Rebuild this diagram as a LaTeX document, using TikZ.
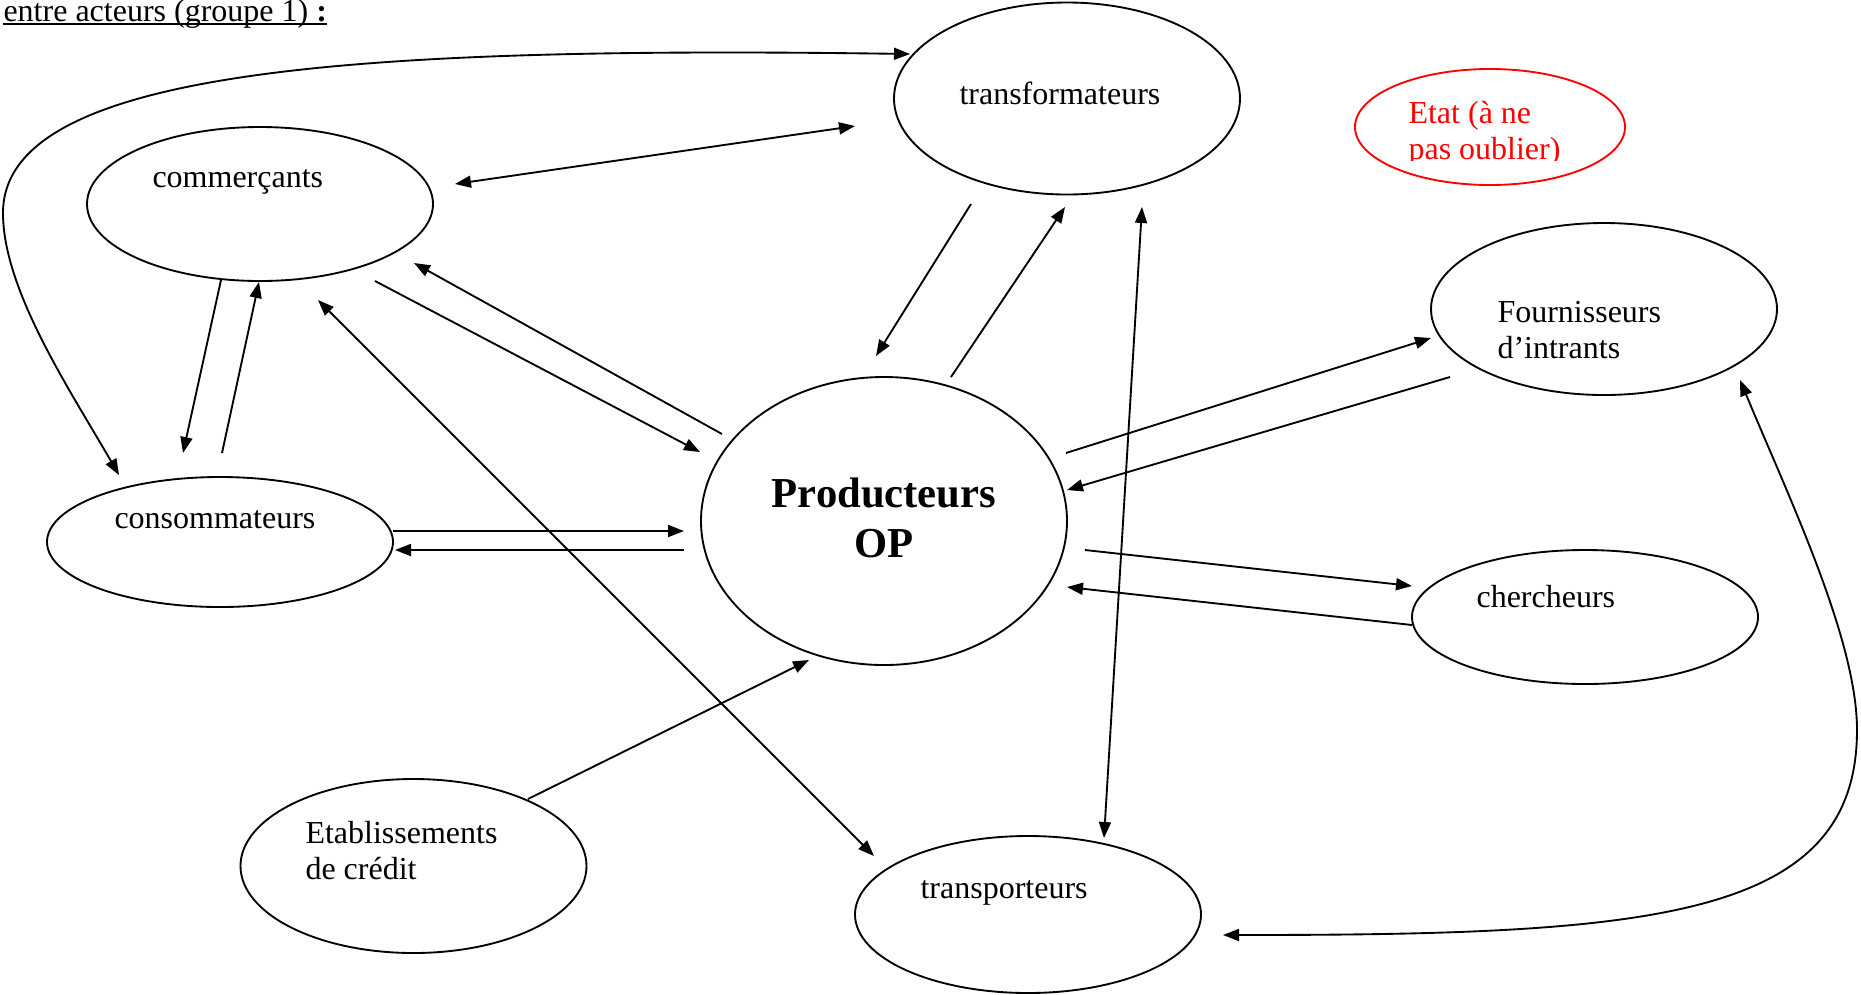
\documentclass[tikz,border=0pt]{standalone}
\usepackage{fontspec}
\setmainfont{Liberation Serif}
\usetikzlibrary{arrows.meta,calc,shapes.geometric}
\begin{document}
\begin{tikzpicture}[x=0.375pt,y=-0.375pt,
  ell/.style={ellipse,draw,line width=0.7pt,inner sep=0pt,minimum width=129.75pt},
  lbl/.style={inner sep=0pt,anchor=base west,font=\fontsize{12}{13.5}\selectfont,align=left},
  con/.style={line width=0.7pt,-{Triangle[length=6pt,width=4.5pt]}},
  bicon/.style={line width=0.7pt,{Triangle[length=6pt,width=4.5pt]}-{Triangle[length=6pt,width=4.5pt]}}]
\useasboundingbox (0,0) rectangle (1861,994);

% title
\node[lbl] (title) at (3,21) {entre acteurs (groupe 1) \textbf{:}};
\draw[line width=0.75pt] ($(title.base west)+(0,3.3)$) -- ($(title.base east)+(0,3.3)$);

% ellipses
\node[ell,minimum height=72pt] (T) at (1067,98.5) {};
\node[ell,draw=red,minimum width=101.25pt,minimum height=43.5pt] (E) at (1490,127) {};
\node[ell,minimum height=57.75pt] (C) at (260,204) {};
\node[ell,minimum height=64.5pt] (F) at (1604,309) {};
\node[ell,minimum width=137.25pt,minimum height=108pt] (P) at (884,521) {};
\node[ell,minimum height=48.75pt] (K) at (220,542) {};
\node[ell,minimum height=50.25pt] (R) at (1585,617) {};
\node[ell,minimum height=65.25pt] (B) at (413.5,866) {};
\node[ell,minimum height=58.875pt] (Q) at (1028,914.5) {};

% texts (multi-line nodes: base = last line)
\node[lbl] (Ttxt) at (959,104) {transformateurs};
\begin{scope}
\clip (1400,90) rectangle (1640,160);
\node[lbl,text=red] (Etxt) at (1408,159) {Etat (à ne\\pas oublier)};
\end{scope}
\node[lbl] (Ctxt) at (152,187) {commerçants};
\node[lbl] (Ftxt) at (1497,358) {Fournisseurs\\d’intrants};
\node[inner sep=0pt,anchor=base,align=center,font=\fontsize{16}{18.4}\selectfont\bfseries] (Ptxt) at (884,557) {Producteurs\\OP};
\node[lbl] (Ktxt) at (114,528) {consommateurs};
\node[lbl] (Rtxt) at (1476,607) {chercheurs};
\node[lbl] (Btxt) at (305,879) {Etablissements\\de crédit};
\node[lbl] (Qtxt) at (920,898) {transporteurs};

% connectors
\draw[bicon] ($(K)+(-101,-67)$) .. controls (70,390) and (3,290) .. (3,213)
   .. controls (3,70) and (350,46) .. ($(T)+(-157,-44.5)$);
\draw[bicon] ($(C)+(195,-20)$) -- ($(T)+(-212,27.5)$);
\draw[con] ($(T)+(-96,105.5)$) -- ($(P)+(-8,-165)$);
\draw[con] ($(P)+(67,-144)$) -- ($(T)+(-2,108.5)$);
\draw[bicon] ($(T)+(75,108.5)$) -- ($(Q)+(76,-76.5)$);
\draw[con] ($(C)+(-39,76)$) -- ($(K)+(-37,-89)$);
\draw[con] ($(K)+(2,-89)$) -- ($(C)+(-1,78)$);
\draw[con] ($(C)+(115,77)$) -- ($(P)+(-184,-69)$);
\draw[con] ($(P)+(-162,-87)$) -- ($(C)+(154,59)$);
\draw[bicon] ($(C)+(58,96)$) -- ($(Q)+(-154,-58.5)$);
\draw[con] ($(K)+(173,-11)$) -- ($(P)+(-200,10)$);
\draw[con] ($(P)+(-200,29)$) -- ($(K)+(175,8)$);
\draw[con] ($(P)+(182,-68)$) -- ($(F)+(-173,29)$);
\draw[con] ($(F)+(-154,68)$) -- ($(P)+(183,-31)$);
\draw[con] ($(P)+(201,29)$) -- ($(R)+(-173,-31)$);
\draw[con] ($(R)+(-173,8)$) -- ($(P)+(183,66)$);
\draw[con] ($(B)+(114.5,-67)$) -- ($(P)+(-75,139)$);
\draw[bicon] ($(F)+(136,71)$) .. controls (1790,500) and (1857,640) .. (1857,730)
   .. controls (1857,920) and (1650,935) .. ($(Q)+(195,20.5)$);
\end{tikzpicture}
\end{document}
